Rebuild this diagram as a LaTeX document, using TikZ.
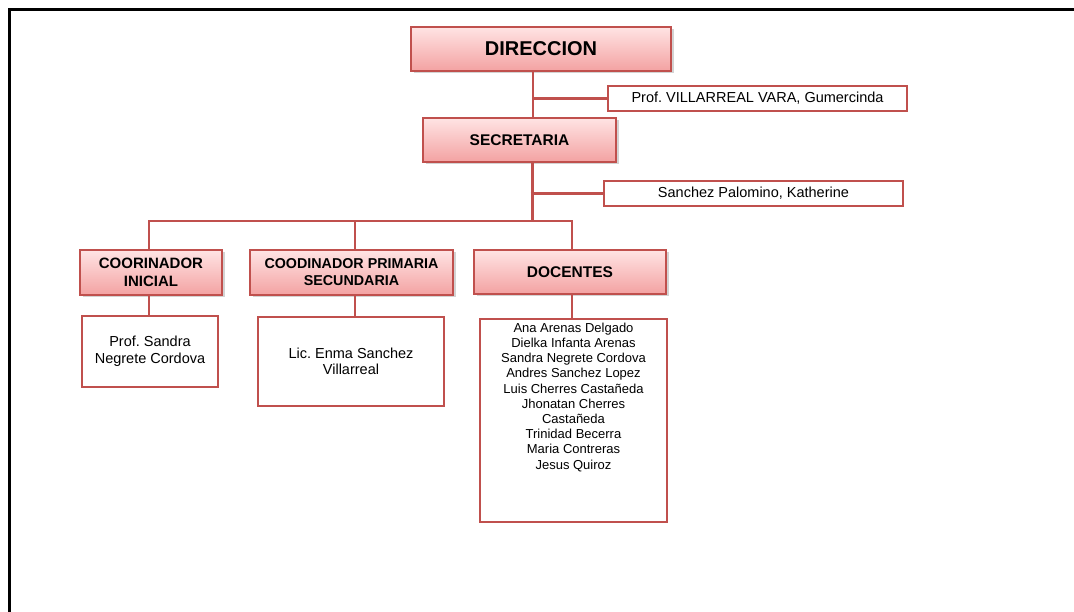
\documentclass[tikz,border=0pt]{standalone}
\usepackage{fontspec}
\setmainfont{Liberation Sans}
\usepackage{xcolor}
\definecolor{Brick}{HTML}{C0504D}
\definecolor{PinkTop}{HTML}{FFE4E4}
\definecolor{PinkBot}{HTML}{F3A2A2}
\usetikzlibrary{positioning,shadows,calc}
\tikzset{
  head/.style={draw=Brick,line width=1.2pt,top color=PinkTop,bottom color=PinkBot,
    drop shadow={shadow xshift=2.5pt,shadow yshift=-2.5pt,opacity=0.35},
    align=center,inner sep=2pt},
  member/.style={draw=Brick,line width=1.6pt,fill=white,align=center,inner sep=2pt},
  link/.style={draw=Brick,line width=2.4pt},
  frame/.style={draw=black,line width=3pt}
}
\newcommand{\hfnt}[2]{\bfseries\fontsize{#1}{#2}\selectfont}
\newcommand{\mfnt}{\fontsize{14.5}{16.5}\selectfont}
\frenchspacing

\begin{document}
\begin{tikzpicture}[x=1pt,y=-1pt]
  \useasboundingbox (0,0) rectangle (1074,612);
  \draw[frame] (9.5,612) -- (9.5,10) -- (1074,10);
  % heads
  \node[head,minimum width=260,minimum height=44,font=\hfnt{20}{23}] (dir) at (541,49) {DIRECCION};
  \node[member,minimum width=299,minimum height=25,font=\mfnt] (villa) at (757.5,98.5) {Prof. VILLARREAL VARA, Gumercinda};
  \node[head,minimum width=193,minimum height=44,font=\hfnt{15.5}{18}] (secr) at (519.5,140) {SECRETARIA};
  \node[member,minimum width=299,minimum height=25,font=\mfnt] (sanch) at (753.5,193.5) {Sanchez Palomino, Katherine};
  \node[head,minimum width=142,minimum height=45,font=\hfnt{15}{17.5}] (coini) at (151,272.5) {COORINADOR\\INICIAL};
  \node[head,minimum width=203,minimum height=45,font=\hfnt{14.3}{17}] (coprim) at (351.5,272.5) {COODINADOR PRIMARIA\\SECUNDARIA};
  \node[head,minimum width=192,minimum height=44,font=\hfnt{15.5}{18}] (doc) at (570,272) {DOCENTES};
  % members
  \node[member,minimum width=136,minimum height=71,font=\mfnt] (sandra) at (150,351.5) {Prof. Sandra\\Negrete Cordova};
  \node[member,minimum width=186,minimum height=89,font=\mfnt] (enma) at (351,361.5) {Lic. Enma Sanchez\\Villarreal};
  \node[member,anchor=north,minimum width=187,minimum height=203,inner sep=3pt] (list) at (573.5,318)
    {\parbox[t][195pt][t]{180pt}{\centering\fontsize{13}{15.2}\selectfont
      Ana Arenas Delgado\\Dielka Infanta Arenas\\Sandra Negrete Cordova\\Andres Sanchez Lopez\\
      Luis Cherres Castañeda\\Jhonatan Cherres\\Castañeda\\Trinidad Becerra\\Maria Contreras\\Jesus Quiroz}};
  % links
  \coordinate (bus) at (0,221);
  \draw[link] ([xshift=-8]dir.south) coordinate (t1) -- (t1 |- secr.north);
  \draw[link] (t1 |- villa.west) -- (villa.west);
  \draw[link] ([xshift=13]secr.south) coordinate (t2) -- (t2 |- bus);
  \draw[link] ([xshift=-2]t2 |- sanch.west) -- (sanch.west);
  \draw[link] ([xshift=-2]coini.north) coordinate (c1) |- ([xshift=2]doc.north |- bus) -- ([xshift=2]doc.north);
  \draw[link] ([xshift=3.5]coprim.north) coordinate (c2) -- (c2 |- bus);
  \draw[link] (c1 |- coini.south) -- (c1 |- sandra.north);
  \draw[link] (c2 |- coprim.south) -- (c2 |- enma.north);
  \draw[link] ([xshift=2]doc.south) -- ([xshift=2]doc.south |- list.north);
\end{tikzpicture}
\end{document}
